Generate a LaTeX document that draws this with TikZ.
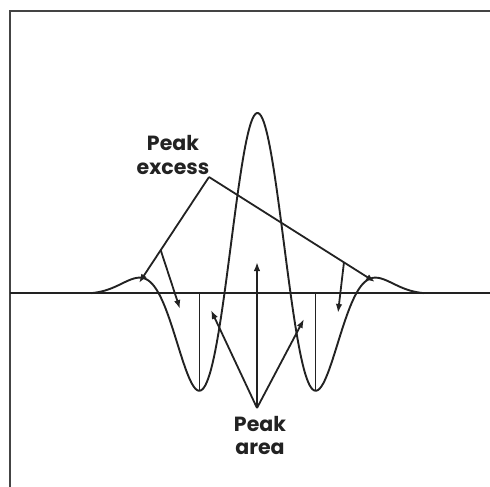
\documentclass[tikz,border=0pt]{standalone}
\usepackage{fontspec}
\setmainfont{Poppins}
\usetikzlibrary{arrows.meta}
\definecolor{ink}{HTML}{222222}
\definecolor{frame}{HTML}{444444}
\tikzset{
  curve/.style={draw=ink, line width=1.9pt, line join=round},
  lead/.style={draw=ink, line width=1.8pt, line join=round},
  arr/.style={lead, -{Latex[length=9pt,width=6.5pt]}},
  thin/.style={draw=ink, line width=1.2pt},
  lab/.style={font=\fontsize{20.5}{24}\selectfont\bfseries, text=ink, inner sep=0pt, anchor=base},
}
\begin{document}
\begin{tikzpicture}[x=1pt, y=-1pt]
\useasboundingbox (0,0) rectangle (490,487);
% frame
\draw[frame, line width=1.8pt] (10,487) -- (10,11) -- (490,11);
% baseline
\draw[curve] (10,293) -- (490,293);
% waveform
\draw[curve] plot[domain=-1.66:1.66, samples=240, smooth]
  ({257.5+100*\x}, {293-180*exp(-\x*\x/0.6272)*cos(deg(4.76*\x))});
% trough markers
\coordinate (t1top) at (199.5,293);
\coordinate (t1bot) at (199.5,391);
\coordinate (t2top) at (315.5,293);
\coordinate (t2bot) at (315.5,391);
\draw[thin] (t1top) -- (t1bot);
\draw[thin] (t2top) -- (t2bot);
% labels
\node[lab] (pe1) at (173,150) {Peak};
\node[lab] (pe2) at (173,174) {excess};
\node[lab] (pa1) at (260,431) {Peak};
\node[lab] (pa2) at (260,454) {area};
% peak excess leaders
\coordinate (pe) at (209,177);
\coordinate (bumpL) at (139,283);
\coordinate (bumpR) at (375,282);
\coordinate (exL) at (180,309);
\coordinate (exR) at (338,313);
\draw[arr] (pe) -- (bumpL) coordinate[pos=0.69] (brL);
\draw[arr] (pe) -- (bumpR) coordinate[pos=0.813] (brR);
\draw[arr] (brL) -- (exL);
\draw[arr] (brR) -- (exR);
% peak area leaders
\coordinate (pa) at (257,408);
\coordinate (arC) at (257,262);
\coordinate (arL) at (211,310);
\coordinate (arR) at (304,319);
\draw[arr] (pa) -- (arC);
\draw[arr] (pa) -- (arL);
\draw[arr] (pa) -- (arR);
\end{tikzpicture}
\end{document}
